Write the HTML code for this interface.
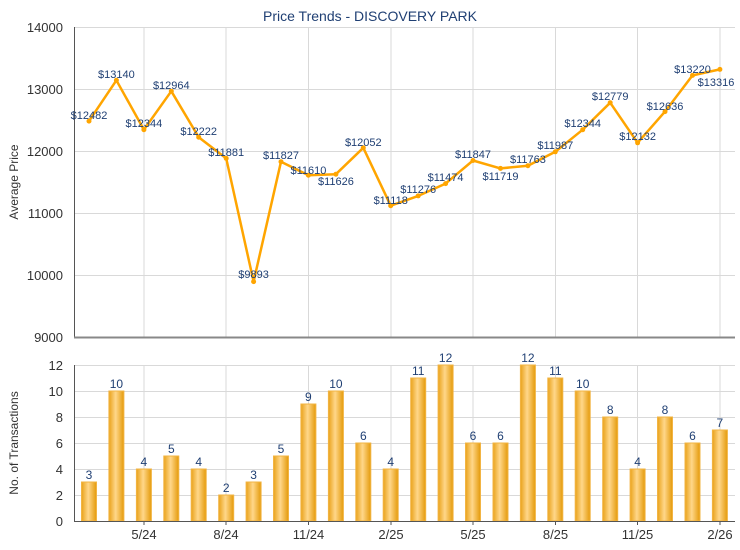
<!DOCTYPE html>
<html><head><meta charset="utf-8"><style>
html,body{margin:0;padding:0;background:#fff;}
svg{display:block;font-family:"Liberation Sans",Arial,sans-serif;}
</style></head><body>
<svg width="740" height="550" viewBox="0 0 740 550">
<defs>
<linearGradient id="bg" x1="0" x2="1" y1="0" y2="0">
<stop offset="0" stop-color="#e9a21a"/><stop offset="0.45" stop-color="#ffd78a"/><stop offset="1" stop-color="#e49a0a"/>
</linearGradient>
</defs>
<text x="370" y="21" text-anchor="middle" font-size="14" fill="#1f3f73">Price Trends - DISCOVERY PARK</text>
<!-- top grid -->
<g stroke="#d9d9d9" stroke-width="1">
<line x1="74" y1="27.5" x2="735" y2="27.5"/><line x1="74" y1="89.5" x2="735" y2="89.5"/><line x1="74" y1="151.5" x2="735" y2="151.5"/><line x1="74" y1="213.5" x2="735" y2="213.5"/><line x1="74" y1="275.5" x2="735" y2="275.5"/>
<line x1="144" y1="27" x2="144" y2="337"/><line x1="226" y1="27" x2="226" y2="337"/><line x1="308.5" y1="27" x2="308.5" y2="337"/><line x1="391" y1="27" x2="391" y2="337"/><line x1="473" y1="27" x2="473" y2="337"/><line x1="555.5" y1="27" x2="555.5" y2="337"/><line x1="637.5" y1="27" x2="637.5" y2="337"/><line x1="720" y1="27" x2="720" y2="337"/>
</g>
<line x1="74.5" y1="27" x2="74.5" y2="338" stroke="#555"/>
<line x1="74" y1="337.5" x2="735" y2="337.5" stroke="#888" stroke-width="2"/>
<g font-size="13" fill="#333" text-anchor="end">
<text x="63" y="32">14000</text><text x="63" y="94">13000</text><text x="63" y="156">12000</text><text x="63" y="218">11000</text><text x="63" y="280">10000</text><text x="63" y="342">9000</text>
</g>
<text transform="translate(18,182) rotate(-90)" text-anchor="middle" font-size="12" fill="#333">Average Price</text>
<polyline fill="none" stroke="#ffa500" stroke-width="2.5" stroke-linejoin="round" points="89,121.1 116.4,80.3 143.9,129.7 171.3,91.2 198.7,137.2 226.2,158.4 253.6,281.6 281,161.7 308.4,175.2 335.9,174.2 363.3,147.8 390.7,205.7 418.2,195.9 445.6,183.6 473,160.5 500.5,168.4 527.9,165.7 555.3,151.8 582.7,129.7 610.2,102.7 637.6,142.8 665,111.6 692.5,75.4 719.9,69.4"/>
<g fill="#ffa500">
<circle cx="89" cy="121.1" r="2.5"/><circle cx="116.4" cy="80.3" r="2.5"/><circle cx="143.9" cy="129.7" r="2.5"/><circle cx="171.3" cy="91.2" r="2.5"/><circle cx="198.7" cy="137.2" r="2.5"/><circle cx="226.2" cy="158.4" r="2.5"/><circle cx="253.6" cy="281.6" r="2.5"/><circle cx="281" cy="161.7" r="2.5"/><circle cx="308.4" cy="175.2" r="2.5"/><circle cx="335.9" cy="174.2" r="2.5"/><circle cx="363.3" cy="147.8" r="2.5"/><circle cx="390.7" cy="205.7" r="2.5"/><circle cx="418.2" cy="195.9" r="2.5"/><circle cx="445.6" cy="183.6" r="2.5"/><circle cx="473" cy="160.5" r="2.5"/><circle cx="500.5" cy="168.4" r="2.5"/><circle cx="527.9" cy="165.7" r="2.5"/><circle cx="555.3" cy="151.8" r="2.5"/><circle cx="582.7" cy="129.7" r="2.5"/><circle cx="610.2" cy="102.7" r="2.5"/><circle cx="637.6" cy="142.8" r="2.5"/><circle cx="665" cy="111.6" r="2.5"/><circle cx="692.5" cy="75.4" r="2.5"/><circle cx="719.9" cy="69.4" r="2.5"/>
</g>
<g font-size="11" fill="#1f3f73" text-anchor="middle">
<text x="89" y="119">$12482</text><text x="116.4" y="78">$13140</text><text x="143.9" y="127">$12344</text><text x="171.3" y="89">$12964</text><text x="198.7" y="135">$12222</text><text x="226.2" y="156">$11881</text><text x="253.6" y="278">$9893</text><text x="281" y="159">$11827</text><text x="308.4" y="174">$11610</text><text x="335.9" y="185">$11626</text><text x="363.3" y="146">$12052</text><text x="390.7" y="204">$11118</text><text x="418.2" y="193">$11276</text><text x="445.6" y="181">$11474</text><text x="473" y="158">$11847</text><text x="500.5" y="180">$11719</text><text x="527.9" y="163">$11763</text><text x="555.3" y="149">$11987</text><text x="582.7" y="127">$12344</text><text x="610.2" y="100">$12779</text><text x="637.6" y="140">$12132</text><text x="665" y="110">$12636</text><text x="692.5" y="73">$13220</text><text x="716" y="86">$13316</text>
</g>
<!-- bottom grid -->
<g stroke="#d9d9d9" stroke-width="1">
<line x1="74" y1="365.5" x2="735" y2="365.5"/><line x1="74" y1="391.5" x2="735" y2="391.5"/><line x1="74" y1="417.5" x2="735" y2="417.5"/><line x1="74" y1="443.5" x2="735" y2="443.5"/><line x1="74" y1="469.5" x2="735" y2="469.5"/><line x1="74" y1="495.5" x2="735" y2="495.5"/>
<line x1="144" y1="365" x2="144" y2="521"/><line x1="226" y1="365" x2="226" y2="521"/><line x1="308.5" y1="365" x2="308.5" y2="521"/><line x1="391" y1="365" x2="391" y2="521"/><line x1="473" y1="365" x2="473" y2="521"/><line x1="555.5" y1="365" x2="555.5" y2="521"/><line x1="637.5" y1="365" x2="637.5" y2="521"/><line x1="720" y1="365" x2="720" y2="521"/>
</g>
<g fill="url(#bg)" stroke="#f2b443" stroke-width="1">
<rect x="81.5" y="482" width="15" height="39"/><rect x="108.9" y="391" width="15" height="130"/><rect x="136.4" y="469" width="15" height="52"/><rect x="163.8" y="456" width="15" height="65"/><rect x="191.2" y="469" width="15" height="52"/><rect x="218.7" y="495" width="15" height="26"/><rect x="246.1" y="482" width="15" height="39"/><rect x="273.5" y="456" width="15" height="65"/><rect x="300.9" y="404" width="15" height="117"/><rect x="328.4" y="391" width="15" height="130"/><rect x="355.8" y="443" width="15" height="78"/><rect x="383.2" y="469" width="15" height="52"/><rect x="410.7" y="378" width="15" height="143"/><rect x="438.1" y="365" width="15" height="156"/><rect x="465.5" y="443" width="15" height="78"/><rect x="493" y="443" width="15" height="78"/><rect x="520.4" y="365" width="15" height="156"/><rect x="547.8" y="378" width="15" height="143"/><rect x="575.2" y="391" width="15" height="130"/><rect x="602.7" y="417" width="15" height="104"/><rect x="630.1" y="469" width="15" height="52"/><rect x="657.5" y="417" width="15" height="104"/><rect x="685" y="443" width="15" height="78"/><rect x="712.4" y="430" width="15" height="91"/>
</g>
<line x1="74.5" y1="365" x2="74.5" y2="522" stroke="#555"/>
<line x1="74" y1="521.5" x2="735" y2="521.5" stroke="#555"/>
<g stroke="#555"><line x1="144" y1="521" x2="144" y2="525"/><line x1="226" y1="521" x2="226" y2="525"/><line x1="308.5" y1="521" x2="308.5" y2="525"/><line x1="391" y1="521" x2="391" y2="525"/><line x1="473" y1="521" x2="473" y2="525"/><line x1="555.5" y1="521" x2="555.5" y2="525"/><line x1="637.5" y1="521" x2="637.5" y2="525"/><line x1="720" y1="521" x2="720" y2="525"/></g>
<g font-size="13" fill="#333" text-anchor="end">
<text x="63" y="370">12</text><text x="63" y="396">10</text><text x="63" y="422">8</text><text x="63" y="448">6</text><text x="63" y="474">4</text><text x="63" y="500">2</text><text x="63" y="526">0</text>
</g>
<text transform="translate(18,443) rotate(-90)" text-anchor="middle" font-size="12" fill="#333">No. of Transactions</text>
<g font-size="13" fill="#333" text-anchor="middle">
<text x="144" y="539">5/24</text><text x="226" y="539">8/24</text><text x="308.5" y="539">11/24</text><text x="391" y="539">2/25</text><text x="473" y="539">5/25</text><text x="555.5" y="539">8/25</text><text x="637.5" y="539">11/25</text><text x="720" y="539">2/26</text>
</g>
<g font-size="12" fill="#1f3f73" text-anchor="middle">
<text x="89" y="479">3</text><text x="116.4" y="388">10</text><text x="143.9" y="466">4</text><text x="171.3" y="453">5</text><text x="198.7" y="466">4</text><text x="226.2" y="492">2</text><text x="253.6" y="479">3</text><text x="281" y="453">5</text><text x="308.4" y="401">9</text><text x="335.9" y="388">10</text><text x="363.3" y="440">6</text><text x="390.7" y="466">4</text><text x="418.2" y="375">11</text><text x="445.6" y="362">12</text><text x="473" y="440">6</text><text x="500.5" y="440">6</text><text x="527.9" y="362">12</text><text x="555.3" y="375">11</text><text x="582.7" y="388">10</text><text x="610.2" y="414">8</text><text x="637.6" y="466">4</text><text x="665" y="414">8</text><text x="692.5" y="440">6</text><text x="719.9" y="427">7</text>
</g>
</svg>
</body></html>
